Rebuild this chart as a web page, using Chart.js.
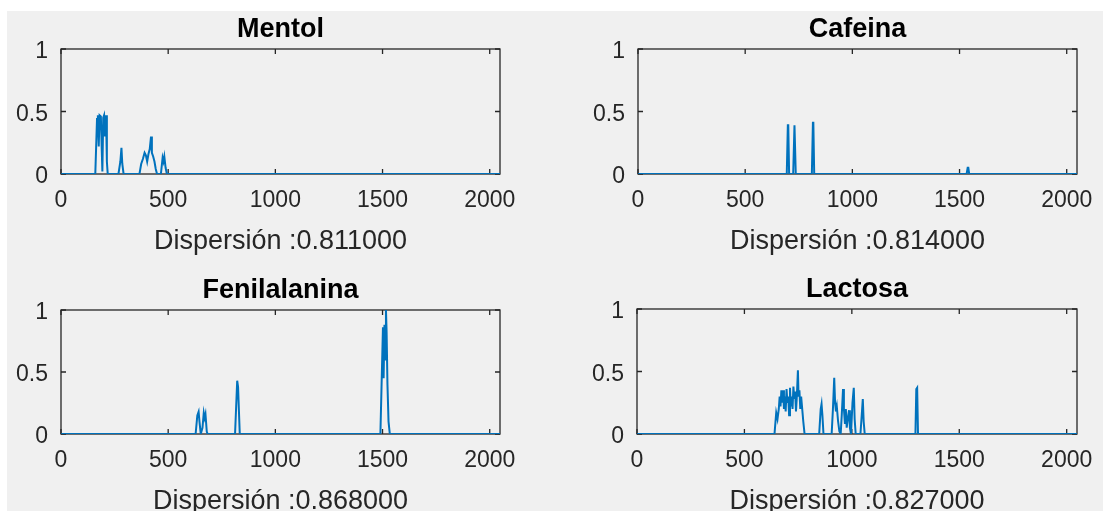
<!DOCTYPE html>
<html>
<head>
<meta charset="utf-8">
<script src="https://cdn.jsdelivr.net/npm/chart.js@4"></script>
<style>
  html, body { margin: 0; padding: 0; background: #ffffff; overflow: hidden; }
  body { width: 1103px; height: 511px; position: relative; }
  #fig { position: absolute; left: 7px; top: 11px; right: 0; bottom: 0; background: #f0f0f0; }
  canvas { position: absolute; }
</style>
</head>
<body>
<div id="fig"></div>
<canvas id="c1"></canvas>
<canvas id="c2"></canvas>
<canvas id="c3"></canvas>
<canvas id="c4"></canvas>
<script>
// spectra: only the non-zero stretches are listed, the rest of the 2048 channels sit at 0
var mentolX = [1, 160, 168, 172, 176, 180, 186, 190, 193, 197, 201, 205, 210, 214, 218,
  268, 277, 282, 286, 292,
  366, 374, 382, 390, 396, 402, 408, 414, 420, 424, 430, 436, 442, 448,
  466, 474, 478, 482, 488, 494, 2048];
var mentolY = [0, 0, 0.44, 0.47, 0.22, 0.47, 0.46, 0.2, 0.02, 0.45, 0.47, 0.3, 0.47, 0.1, 0,
  0, 0.1, 0.21, 0.08, 0,
  0, 0.08, 0.12, 0.17, 0.15, 0.1, 0.16, 0.2, 0.3, 0.17, 0.14, 0.1, 0.04, 0,
  0, 0.13, 0.1, 0.14, 0.05, 0, 0];

var cafeinaX = [1, 694, 699, 701, 705, 724, 730, 732, 736, 811, 816, 818, 822, 1533, 1538, 1541, 1545, 2048];
var cafeinaY = [0, 0, 0.39, 0.39, 0, 0, 0.39, 0.39, 0, 0, 0.41, 0.41, 0, 0, 0.05, 0.05, 0, 0];

var fenilX = [1, 628, 636, 642, 646, 652, 660, 666, 670, 674, 680, 684,
  812, 822, 826, 834,
  1490, 1497, 1502, 1505, 1509, 1512, 1516, 1519, 1523, 1528, 1534, 2048];
var fenilY = [0, 0, 0.15, 0.18, 0.1, 0, 0.05, 0.17, 0.13, 0.16, 0.02, 0,
  0, 0.43, 0.38, 0,
  0, 0.5, 0.86, 0.45, 0.88, 0.6, 1.0, 0.82, 0.4, 0.1, 0, 0];

var lactosaX = [1, 640, 648, 654, 660, 664, 668, 672, 676, 680, 684, 688, 692, 696, 700, 704, 708,
  712, 716, 720, 724, 728, 732, 736, 740, 744, 749, 752, 756, 760, 764, 768, 774, 780,
  848, 855, 859, 863, 868,
  906, 912, 918, 922, 926, 930, 936, 942, 948, 953, 959, 963, 968, 972, 976, 981, 987, 991, 996,
  1003, 1009, 1013, 1018, 1040, 1046, 1051, 1055, 1060,
  1296, 1300, 1304, 1308, 2048];
var lactosaY = [0, 0, 0.17, 0.12, 0.2, 0.3, 0.22, 0.35, 0.25, 0.35, 0.2, 0.3, 0.18, 0.36, 0.25, 0.3, 0.15,
  0.37, 0.22, 0.3, 0.2, 0.38, 0.28, 0.34, 0.18, 0.3, 0.51, 0.3, 0.35, 0.2, 0.3, 0.22, 0.1, 0,
  0, 0.2, 0.24, 0.15, 0,
  0, 0.2, 0.45, 0.25, 0.18, 0.22, 0.1, 0.02, 0, 0.15, 0.36, 0.2, 0.08, 0.2, 0.05, 0.12, 0.19, 0.05, 0,
  0.25, 0.37, 0.12, 0, 0, 0.15, 0.28, 0.1, 0,
  0, 0.36, 0.37, 0, 0];

var titles = ['Mentol', 'Cafeina', 'Fenilalanina', 'Lactosa'];
var dispersion = ['0.811000', '0.814000', '0.868000', '0.827000'];
var xTicks = [0, 500, 1000, 1500, 2000];
var yTicks = [0, 0.5, 1];

var series = [[mentolX, mentolY], [cafeinaX, cafeinaY], [fenilX, fenilY], [lactosaX, lactosaY]];

// axes boxes: left, top, width, height of the plotting area
var boxes = [
  [61, 49, 439, 125],
  [638, 49, 439, 125],
  [61, 310, 439, 124],
  [637, 309, 440, 125]
];

var INK = '#262626';
var PADL = 60, PADT = 45, PADR = 30, PADB = 85;

// closed box with inward ticks on all four sides
var boxPlugin = {
  id: 'matlabBox',
  beforeDatasetsDraw: function (chart) {
    var a = chart.chartArea, ctx = chart.ctx;
    var xs = chart.scales.x, ys = chart.scales.y, len = 5;
    ctx.save();
    ctx.strokeStyle = INK;
    ctx.lineWidth = 1.3;
    ctx.strokeRect(a.left, a.top, a.right - a.left, a.bottom - a.top);
    ctx.beginPath();
    xTicks.forEach(function (v) {
      var px = xs.getPixelForValue(v);
      ctx.moveTo(px, a.bottom); ctx.lineTo(px, a.bottom - len);
      ctx.moveTo(px, a.top); ctx.lineTo(px, a.top + len);
    });
    yTicks.forEach(function (v) {
      var py = ys.getPixelForValue(v);
      ctx.moveTo(a.left, py); ctx.lineTo(a.left + len, py);
      ctx.moveTo(a.right, py); ctx.lineTo(a.right - len, py);
    });
    ctx.stroke();
    ctx.restore();
  }
};

Chart.defaults.font.family = '"Liberation Sans", Arial, Helvetica, sans-serif';
Chart.defaults.color = INK;

function plain(v) { return String(v); }

series.forEach(function (s, i) {
  var b = boxes[i];
  var cv = document.getElementById('c' + (i + 1));
  cv.width = PADL + b[2] + PADR;
  cv.height = PADT + b[3] + PADB;
  cv.style.left = (b[0] - PADL) + 'px';
  cv.style.top = (b[1] - PADT) + 'px';

  var pts = s[0].map(function (x, k) { return { x: x, y: s[1][k] }; });

  new Chart(cv.getContext('2d'), {
    type: 'line',
    data: {
      datasets: [{
        data: pts,
        borderColor: '#0072BD',
        borderWidth: 2,
        pointRadius: 0,
        tension: 0,
        fill: false
      }]
    },
    options: {
      responsive: false,
      animation: false,
      layout: { padding: { right: PADR, top: 0, bottom: 0, left: 0 } },
      plugins: {
        legend: { display: false },
        tooltip: { enabled: false },
        title: {
          display: true,
          text: titles[i],
          fullSize: false,
          color: '#000000',
          font: { size: 27, weight: 'bold' },
          padding: { top: 9, bottom: 3.6 }
        }
      },
      scales: {
        x: {
          type: 'linear',
          min: 0,
          max: 2048,
          grid: { display: false },
          border: { display: false },
          afterBuildTicks: function (sc) { sc.ticks = xTicks.map(function (v) { return { value: v }; }); },
          afterFit: function (sc) { sc.height = PADB; },
          ticks: { font: { size: 23 }, padding: 5, maxRotation: 0, autoSkip: false, color: INK, callback: plain },
          title: {
            display: true,
            text: 'Dispersión :' + dispersion[i],
            font: { size: 27 },
            color: INK,
            padding: { top: 0, bottom: 1 }
          }
        },
        y: {
          min: 0,
          max: 1,
          grid: { display: false },
          border: { display: false },
          afterBuildTicks: function (sc) { sc.ticks = yTicks.map(function (v) { return { value: v }; }); },
          afterFit: function (sc) { sc.width = PADL; },
          ticks: { font: { size: 23 }, padding: 5, labelOffset: 3, color: INK, callback: plain }
        }
      }
    },
    plugins: [boxPlugin]
  });
});
</script>
</body>
</html>
